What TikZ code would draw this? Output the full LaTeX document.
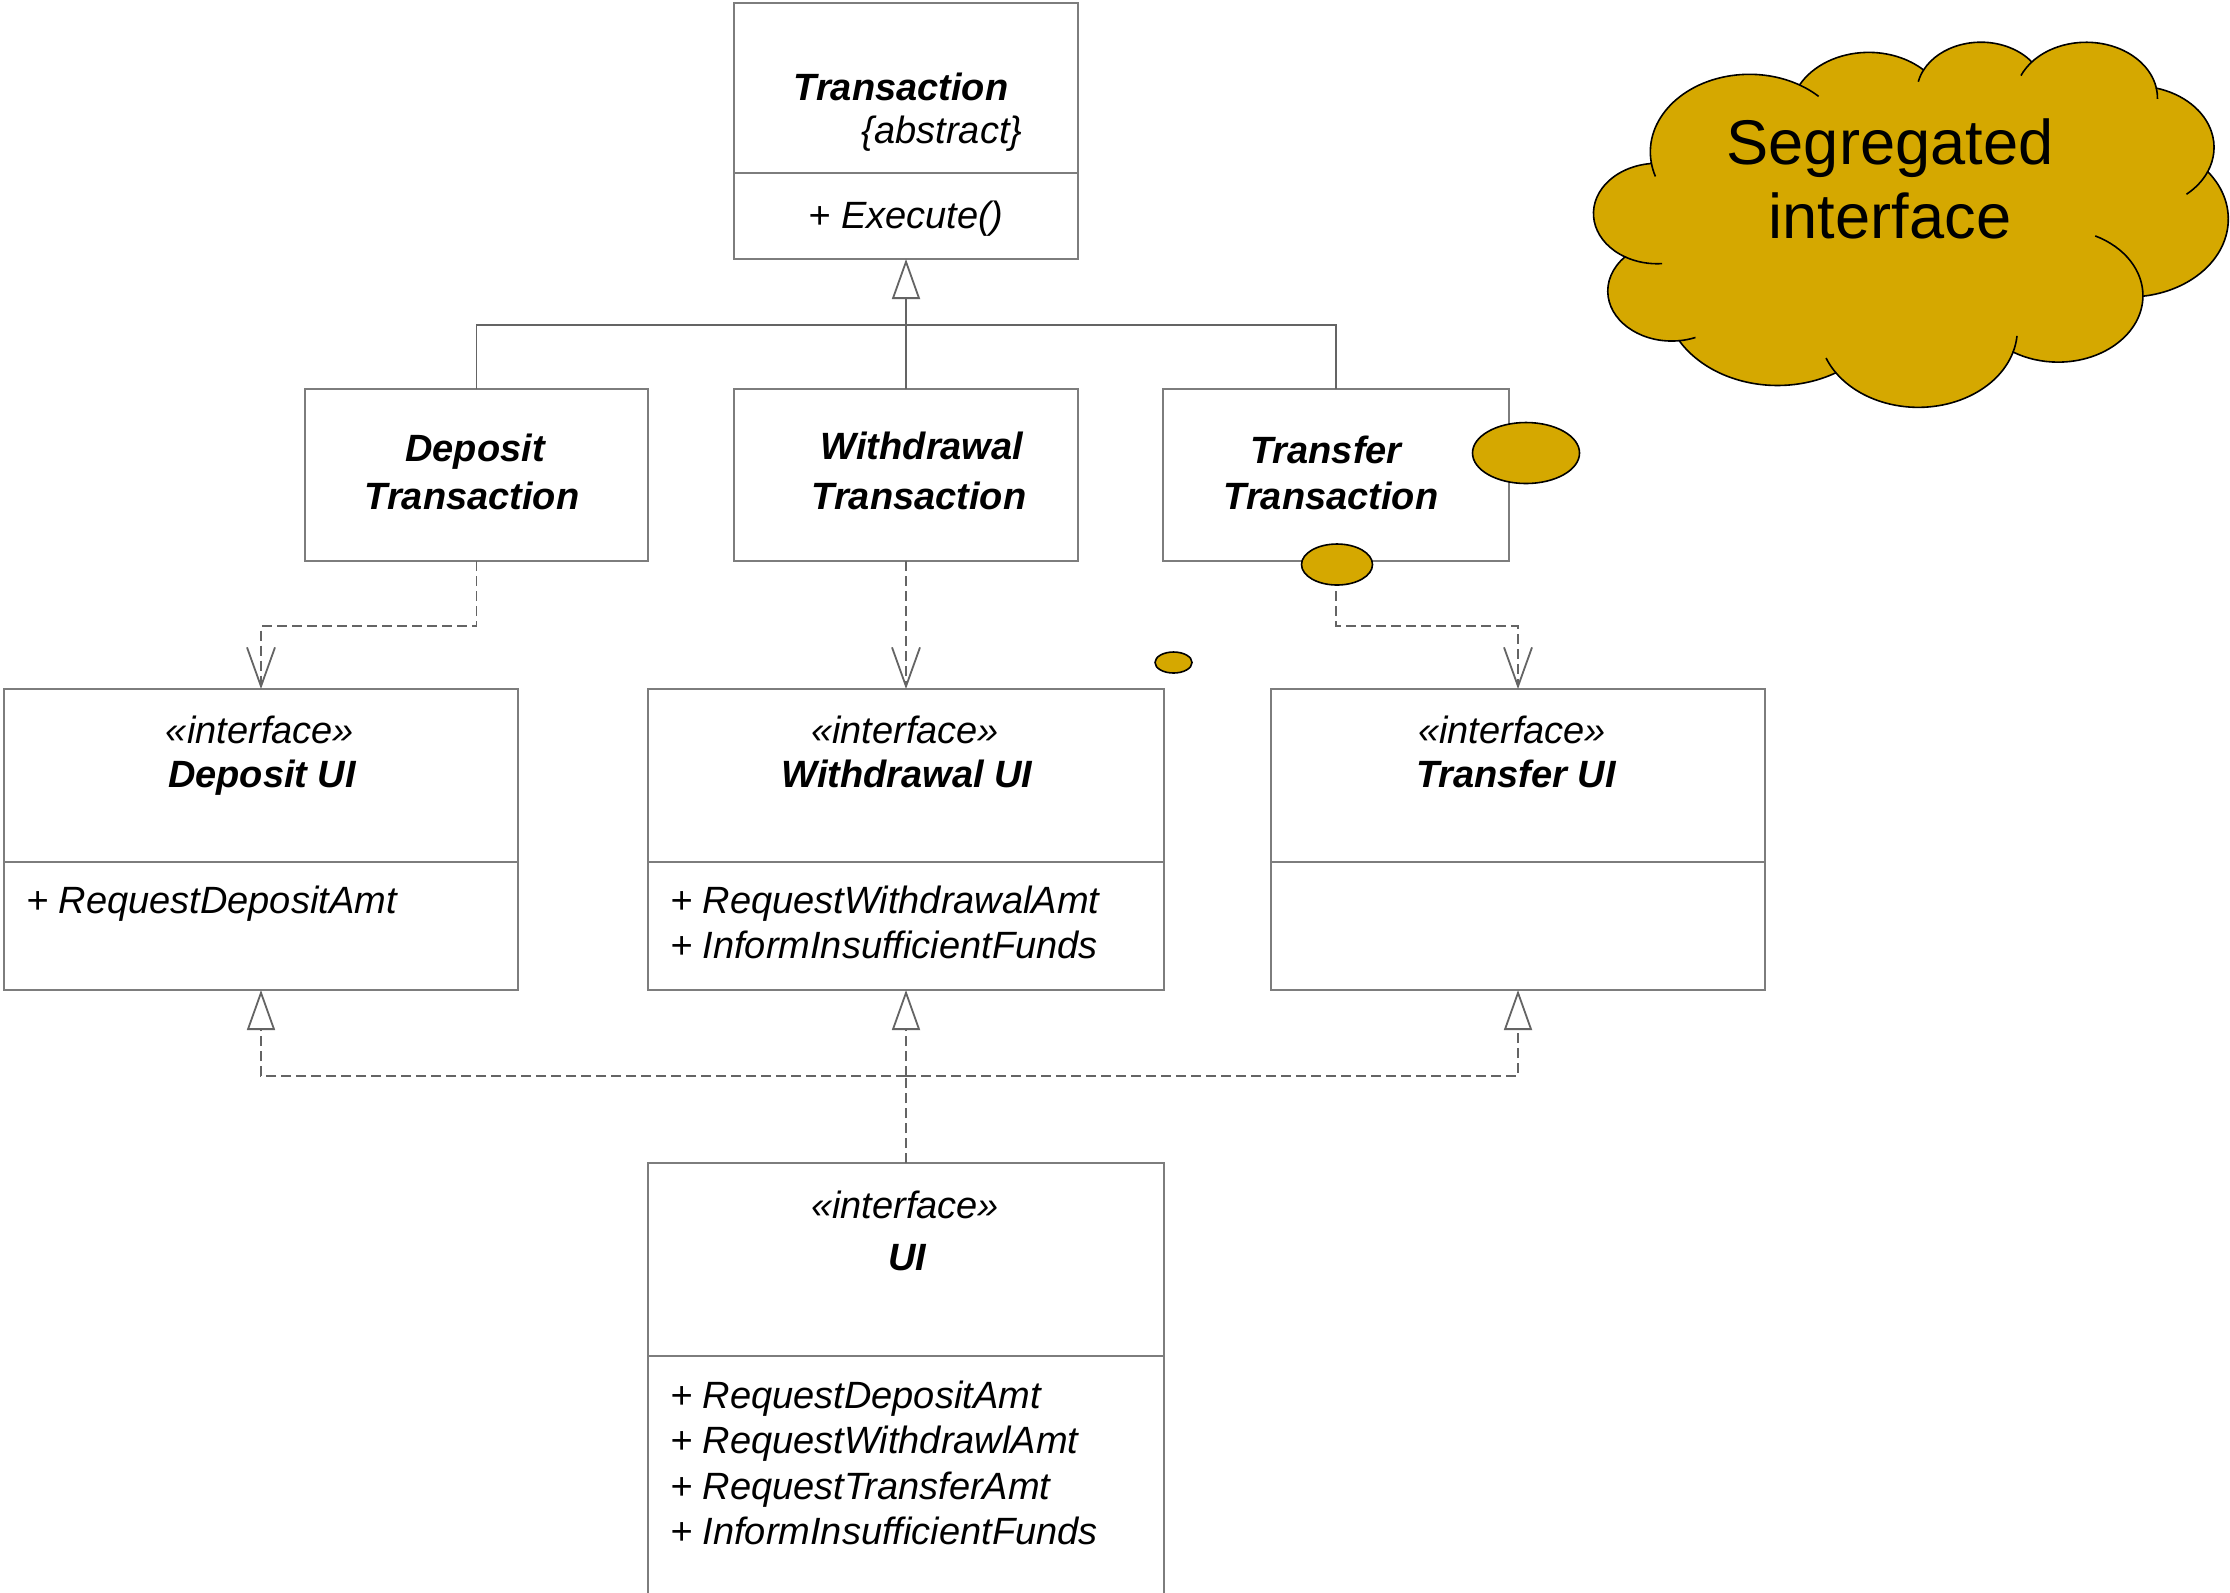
\documentclass[tikz,border=0pt]{standalone}
\usepackage{fontspec}
\setmainfont{Liberation Sans}
\usetikzlibrary{arrows.meta,fit}

\definecolor{boxgray}{RGB}{125,125,125}
\definecolor{linegray}{RGB}{100,100,100}
\definecolor{cloudgold}{RGB}{213,168,0}

\newcommand\umlfont{\fontsize{19}{23}\selectfont}
\newcommand\cloudfont{\fontsize{31.6}{37}\selectfont}

% Elliptic arc given by its radii and a visual start angle / sweep:
% stores the parametric start (cS#1), end (cE#1) and sweep (cD#1).
\newcommand\defarc[5]{%
  \pgfmathsetmacro\arcTs{atan2((#2)*sin(#4),(#3)*cos(#4))}%
  \pgfmathsetmacro\arcTe{atan2((#2)*sin((#4)+(#5)),(#3)*cos((#4)+(#5)))}%
  \pgfmathsetmacro\arcTd{mod((\arcTe)-(\arcTs)+720,360)}%
  \expandafter\let\csname cS#1\endcsname\arcTs
  \expandafter\let\csname cE#1\endcsname\arcTe
  \expandafter\let\csname cD#1\endcsname\arcTd
}

\tikzset{
  umlbox/.style={draw=boxgray, line width=1pt, inner sep=0pt, outer sep=0pt},
  divider/.style={draw=boxgray, line width=1pt},
  lbl/.style={inner sep=0pt, outer sep=0pt, anchor=base},
  title/.style={lbl, font=\umlfont\bfseries\itshape},
  stereo/.style={lbl, font=\umlfont\itshape},
  member/.style={lbl, anchor=base west, font=\umlfont\itshape},
  solidcon/.style={draw=linegray, line width=0.9pt},
  dashcon/.style={draw=linegray, line width=0.9pt, dash pattern=on 5pt off 2.5pt},
  gentip/.style={-{Triangle[open, length=20pt, width=14pt]}},
  deptip/.style={-{Straight Barb[length=19.5pt, width=14pt]}},
  cloudline/.style={draw=black, line width=0.8pt},
  bubble/.style={draw=black, fill=cloudgold, line width=0.8pt},
}

\begin{document}
\begin{tikzpicture}[x=0.5pt, y=-0.5pt]
\useasboundingbox (0,0) rectangle (2230,1592);
\fill[white] (0,0) rectangle (2230,1592);
\clip (0,0) rectangle (2230,1592);

% ---------- class boxes ----------
\node[umlbox, fit={(734,3) (1078,259)}] (trans) {};
\draw[divider] (trans.west |- 0,173) -- (trans.east |- 0,173);

\node[umlbox, fit={(305,389) (648,561)}] (deptx) {};
\node[umlbox, fit={(734,389) (1078,561)}] (wdtx) {};
\node[umlbox, fit={(1163,389) (1509,561)}] (xfertx) {};

\node[umlbox, fit={(4,689) (518,990)}] (depui) {};
\draw[divider] (depui.west |- 0,862) -- (depui.east |- 0,862);
\node[umlbox, fit={(648,689) (1164,990)}] (wdui) {};
\draw[divider] (wdui.west |- 0,862) -- (wdui.east |- 0,862);
\node[umlbox, fit={(1271,689) (1765,990)}] (xferui) {};
\draw[divider] (xferui.west |- 0,862) -- (xferui.east |- 0,862);

\node[umlbox, fit={(648,1163) (1164,1600)}] (ui) {};
\draw[divider] (ui.west |- 0,1356) -- (ui.east |- 0,1356);

% ---------- texts ----------
\node[title]  (tTrans) at (901,100)  {Transaction};
\node[stereo] (tAbs)   at (942,143) {\{abstract\}};
\node[stereo] (tExec)  at (906,228) {+ Execute()};

\node[title] (tDepA) at (475,461) {Deposit};
\node[title] (tDepB) at (472,509) {Transaction};
\node[title] (tWdA)  at (922,459) {Withdrawal};
\node[title] (tWdB)  at (919,509) {Transaction};
\node[title] (tXfA)  at (1326,463) {Transfer};
\node[title] (tXfB)  at (1331,509) {Transaction};

\node[stereo] (sDep) at (260,743) {«interface»};
\node[title]  (nDep) at (262,787) {Deposit UI};
\node[member] (mDep) at (26,913)  {+ RequestDepositAmt};

\node[stereo] (sWd)  at (905,743) {«interface»};
\node[title]  (nWd)  at (907,787) {Withdrawal UI};
\node[member] (mWdA) at (670,913) {+ RequestWithdrawalAmt};
\node[member] (mWdB) at (670,958) {+ InformInsufficientFunds};

\node[stereo] (sXf) at (1512,743) {«interface»};
\node[title]  (nXf) at (1516,787) {Transfer UI};

\node[stereo] (sUi) at (905,1218) {«interface»};
\node[title]  (nUi) at (907,1270) {UI};
\node[member] (mUiA) at (670,1408)   {+ RequestDepositAmt};
\node[member] (mUiB) at (670,1453.5) {+ RequestWithdrawlAmt};
\node[member] (mUiC) at (670,1499)   {+ RequestTransferAmt};
\node[member] (mUiD) at (670,1544.5) {+ InformInsufficientFunds};

% ---------- generalization ----------
\coordinate (gj) at (906,325);
\draw[solidcon] (deptx.north) |- (gj) -| (xfertx.north);
\draw[solidcon, gentip] (wdtx.north) -- (trans.south);

% ---------- dependencies ----------
\draw[dashcon, deptip] (deptx.south) -- ++(0,65) -| (depui.north);
\draw[dashcon, deptip] (wdtx.south) -- (wdui.north);
\draw[dashcon, deptip] (xfertx.south) -- ++(0,65) -| (xferui.north);

% ---------- realizations ----------
\coordinate (rj) at (906,1076);
\draw[dashcon] (ui.north) -- (rj);
\draw[dashcon, gentip] (rj) -| (depui.south);
\draw[dashcon, gentip] (rj) -- (wdui.south);
\draw[dashcon, gentip] (rj) -| (xferui.south);

% ---------- thought cloud ----------
\defarc{A}{6753}{9190}{-190.4875}{123.7805}
\defarc{B}{5333}{7267}{-144.1024}{89.9452}
\defarc{C}{4365}{5945}{-145.8079}{99.7230}
\defarc{D}{4857}{6595}{-130.9861}{117.2417}
\defarc{E}{5333}{7273}{-78.7089}{109.0269}
\defarc{F}{6775}{9220}{-46.2673}{130.2690}
\defarc{G}{5785}{7867}{0.6250}{114.0333}
\defarc{H}{6752}{9215}{22.4516}{115.1726}
\defarc{I}{7720}{10543}{66.2426}{75.7110}
\defarc{J}{4360}{5918}{-274.9421}{146.7356}
\defarc{K}{4345}{5945}{-246.8285}{152.5189}
% inner strokes of the lobes
\defarc{TA}{4345}{5945}{86.7420}{26.4295}
\defarc{TB}{4360}{5918}{73.6105}{11.4475}
\defarc{TC}{6752}{9215}{137.6242}{14.0811}
\defarc{TD}{6752}{9215}{6.4533}{15.9984}
\defarc{TE}{5785}{7867}{-70.2924}{70.9174}
\defarc{TF}{5333}{7273}{30.3180}{27.7515}
\defarc{TG}{4857}{6595}{-13.7444}{14.8589}
\defarc{TH}{4857}{6595}{-149.1815}{18.1954}
\defarc{TI}{4365}{5945}{-163.4943}{17.6864}
\defarc{TJ}{6753}{9190}{-66.7070}{12.3194}
\defarc{TK}{6753}{9190}{155.6472}{13.8653}

\begin{scope}[shift={(1594,41)}, xscale=0.73380, yscale=-0.42245]
  \path[cloudline, fill=cloudgold] (39pt,143.7pt) coordinate (c0)
    arc[start angle=\cSA, delta angle=\cDA, x radius=67.53pt, y radius=91.90pt] coordinate (cA)
    arc[start angle=\cSB, delta angle=\cDB, x radius=53.33pt, y radius=72.67pt] coordinate (cB)
    arc[start angle=\cSC, delta angle=\cDC, x radius=43.65pt, y radius=59.45pt] coordinate (cC)
    arc[start angle=\cSD, delta angle=\cDD, x radius=48.57pt, y radius=65.95pt] coordinate (cD)
    arc[start angle=\cSE, delta angle=\cDE, x radius=53.33pt, y radius=72.73pt] coordinate (cE)
    arc[start angle=\cSF, delta angle=\cDF, x radius=67.75pt, y radius=92.20pt] coordinate (cF)
    arc[start angle=\cSG, delta angle=\cDG, x radius=57.85pt, y radius=78.67pt] coordinate (cG)
    arc[start angle=\cSH, delta angle=\cDH, x radius=67.52pt, y radius=92.15pt] coordinate (cH)
    arc[start angle=\cSI, delta angle=\cDI, x radius=77.20pt, y radius=105.43pt] coordinate (cI)
    arc[start angle=\cSJ, delta angle=\cDJ, x radius=43.60pt, y radius=59.18pt] coordinate (cJ)
    arc[start angle=\cSK, delta angle=\cDK, x radius=43.45pt, y radius=59.45pt] -- cycle;
  \draw[cloudline] (cJ) arc[start angle=\cETA, delta angle=-\cDTA, x radius=43.45pt, y radius=59.45pt];
  \draw[cloudline] (cI) arc[start angle=\cETB, delta angle=-\cDTB, x radius=43.60pt, y radius=59.18pt];
  \draw[cloudline] (cH) arc[start angle=\cSTC, delta angle=\cDTC, x radius=67.52pt, y radius=92.15pt];
  \draw[cloudline] (cG) arc[start angle=\cETD, delta angle=-\cDTD, x radius=67.52pt, y radius=92.15pt];
  \draw[cloudline] (cF) arc[start angle=\cETE, delta angle=-\cDTE, x radius=57.85pt, y radius=78.67pt];
  \draw[cloudline] (cE) arc[start angle=\cSTF, delta angle=\cDTF, x radius=53.33pt, y radius=72.73pt];
  \draw[cloudline] (cD) arc[start angle=\cSTG, delta angle=\cDTG, x radius=48.57pt, y radius=65.95pt];
  \draw[cloudline] (cC) arc[start angle=\cETH, delta angle=-\cDTH, x radius=48.57pt, y radius=65.95pt];
  \draw[cloudline] (cB) arc[start angle=\cETI, delta angle=-\cDTI, x radius=43.65pt, y radius=59.45pt];
  \draw[cloudline] (cA) arc[start angle=\cSTJ, delta angle=\cDTJ, x radius=67.53pt, y radius=91.90pt];
  \draw[cloudline] (c0) arc[start angle=\cETK, delta angle=-\cDTK, x radius=67.53pt, y radius=91.90pt];
\end{scope}

\node[lbl, font=\cloudfont] (cloudA) at (1890,164) {Segregated};
\node[lbl, font=\cloudfont] (cloudB) at (1890,238) {interface};

% thought bubbles
\path[bubble] (1526,453) ellipse [x radius=26.75pt, y radius=15.25pt];
\path[bubble] (1337,564.5) ellipse [x radius=17.75pt, y radius=10.25pt];
\path[bubble] (1173.5,662.5) ellipse [x radius=9.25pt, y radius=5.25pt];
\end{tikzpicture}
\end{document}
